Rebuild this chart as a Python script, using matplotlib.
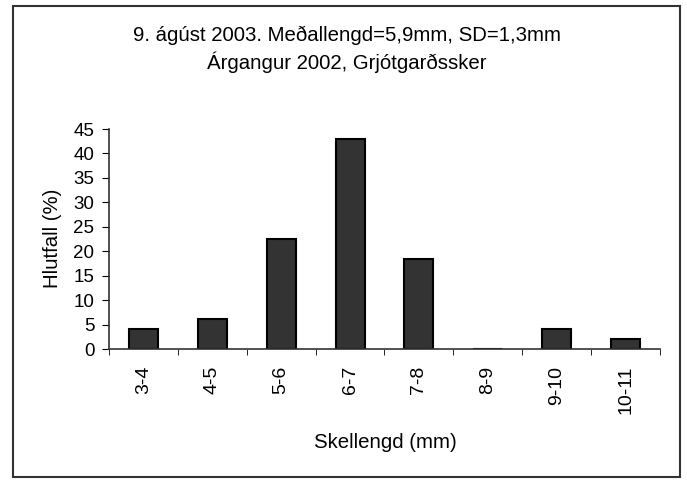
import matplotlib
matplotlib.use('Agg')
import matplotlib.pyplot as plt
from matplotlib.patches import Rectangle
from matplotlib.ticker import FixedLocator

# 数据
categories = ['3-4', '4-5', '5-6', '6-7', '7-8', '8-9', '9-10', '10-11']
values = [4.08, 6.12, 22.45, 42.86, 18.37, 0.0, 4.08, 2.04]
yticks = list(range(0, 50, 5))

plt.rcParams['font.family'] = ['Liberation Sans', 'DejaVu Sans']

W, H = 687, 480
fig = plt.figure(figsize=(W / 100, H / 100), dpi=100)

# 外框
fig.patches.append(Rectangle((13 / W, 3 / H), (680 - 13) / W, (477 - 6) / H,
                             transform=fig.transFigure, fill=False,
                             edgecolor='#333333', linewidth=1.5))

ax = fig.add_axes([109 / W, (480 - 349) / H, (660 - 109) / W, (349 - 129) / H])
x = list(range(len(categories)))
ax.bar(x, values, width=0.42, color='#333333', edgecolor='black', linewidth=1.5)

ax.set_xlim(-0.5, len(categories) - 0.5)
ax.set_ylim(0, 45)
ax.set_yticks(yticks)
ax.set_xticks(x)
ax.set_xticklabels(categories, rotation=90, fontsize=14)
ax.xaxis.set_minor_locator(FixedLocator([i - 0.5 for i in range(len(categories) + 1)]))
ax.tick_params(axis='x', which='major', length=0, pad=12)
ax.tick_params(axis='x', which='minor', length=4.3, direction='out', color='black')
ax.tick_params(axis='y', length=5, direction='out', labelsize=13.5, pad=5.5)

for s in ['top', 'right']:
    ax.spines[s].set_visible(False)
for s in ['left', 'bottom']:
    ax.spines[s].set_color('#333333')
    ax.spines[s].set_linewidth(1.2)

fig.text(347 / W, 1 - 41 / H, '9. ágúst 2003. Meðallengd=5,9mm, SD=1,3mm',
         ha='center', va='baseline', fontsize=14.7)
fig.text(347 / W, 1 - 69 / H, 'Árgangur 2002, Grjótgarðssker',
         ha='center', va='baseline', fontsize=14.7)
fig.text(385 / W, 1 - 448 / H, 'Skellengd (mm)', ha='center', va='baseline', fontsize=14.7)
fig.text(58 / W, 1 - 238.5 / H, 'Hlutfall (%)', ha='center', va='baseline',
         rotation=90, rotation_mode='anchor', fontsize=14.7)

fig.savefig('out.png', dpi=100)
plt.close(fig)
